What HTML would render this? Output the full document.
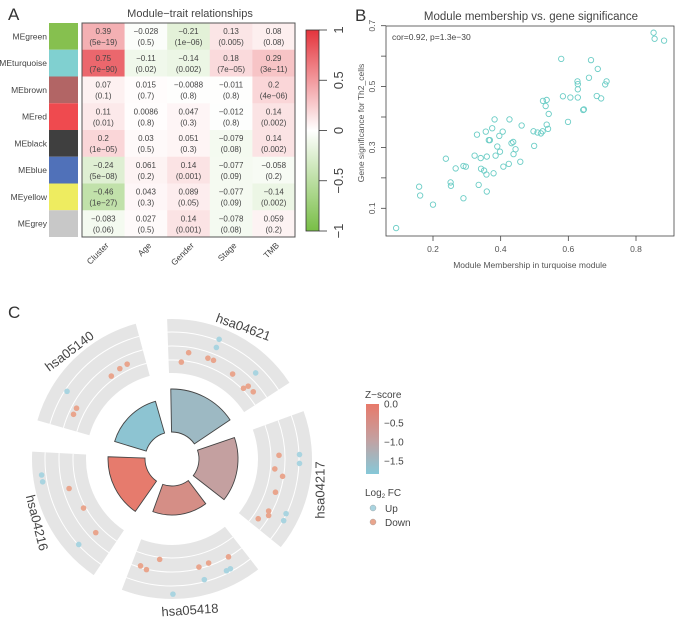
<!DOCTYPE html>
<html><head><meta charset="utf-8"><style>
body{margin:0;background:#fff}
svg{display:block;font-family:"Liberation Sans",sans-serif}
</style></head><body>
<svg id="fig" width="676" height="618" viewBox="0 0 676 618" xmlns="http://www.w3.org/2000/svg">
<g id="pa"></g>
<g id="pb"></g>
<g id="pc"></g>
</svg>
<script>
// ---------- Panel A data ----------
const modules = ["MEgreen","MEturquoise","MEbrown","MEred","MEblack","MEblue","MEyellow","MEgrey"];
const moduleColors = ["#86c04f","#80d0d0","#b26565","#ef4a4f","#3f3f3f","#5071b9","#eeec60","#c8c8c8"];
const traits = ["Cluster","Age","Gender","Stage","TMB"];
const corVals = [
 [0.39,-0.028,-0.21,0.13,0.08],
 [0.75,-0.11,-0.14,0.18,0.29],
 [0.07,0.015,-0.0088,-0.011,0.2],
 [0.11,0.0086,0.047,-0.012,0.14],
 [0.2,0.03,0.051,-0.079,0.14],
 [-0.24,0.061,0.14,-0.077,-0.058],
 [-0.46,0.043,0.089,-0.077,-0.14],
 [-0.083,0.027,0.14,-0.078,0.059]];
const pVals = [
 ["5e-19","0.5","1e-06","0.005","0.08"],
 ["7e-90","0.02","0.002","7e-05","3e-11"],
 ["0.1","0.7","0.8","0.8","4e-06"],
 ["0.01","0.8","0.3","0.8","0.002"],
 ["1e-05","0.5","0.3","0.08","0.002"],
 ["5e-08","0.2","0.001","0.09","0.2"],
 ["1e-27","0.3","0.05","0.09","0.002"],
 ["0.06","0.5","0.001","0.08","0.2"]];
const cbTicks = [1,0.5,0,-0.5,-1];
// ---------- Panel B data ----------
const mmVals = [0.852,0.855,0.883,0.579,0.667,0.687,0.661,0.628,0.627,0.713,0.709,0.628,0.584,0.628,0.684,0.697,0.606,0.525,0.536,0.533,0.542,0.646,0.644,0.382,0.426,0.462,0.599,0.375,0.406,0.330,0.356,0.396,0.365,0.368,0.497,0.509,0.519,0.524,0.536,0.540,0.499,0.390,0.432,0.437,0.444,0.438,0.398,0.385,0.323,0.341,0.359,0.238,0.458,0.424,0.408,0.267,0.290,0.297,0.342,0.351,0.379,0.358,0.252,0.253,0.159,0.162,0.335,0.359,0.290,0.200,0.091];
const gsVals = [0.677,0.657,0.651,0.591,0.587,0.558,0.529,0.508,0.517,0.517,0.507,0.491,0.468,0.464,0.469,0.461,0.464,0.453,0.456,0.436,0.410,0.425,0.423,0.392,0.392,0.372,0.384,0.363,0.352,0.342,0.352,0.338,0.324,0.324,0.353,0.349,0.346,0.353,0.375,0.361,0.305,0.303,0.314,0.318,0.294,0.278,0.286,0.273,0.273,0.265,0.270,0.263,0.253,0.246,0.237,0.231,0.239,0.237,0.230,0.224,0.215,0.211,0.185,0.174,0.171,0.142,0.177,0.155,0.133,0.112,0.035];
const xTicksB = [0.2,0.4,0.6,0.8];
const yTicksB = [0.1,0.2,0.3,0.4,0.5,0.6,0.7];
const yTickLabelsB = ["0.1","","0.3","","0.5","","0.7"];
// ---------- Panel C data ----------
const pathways = ["hsa04621","hsa04217","hsa05418","hsa04216","hsa05140"];
const zScores = [-1.55,-0.95,-0.5,-0.05,-1.8];
const barHeights = [70,66,56,64,60];
const dotSector = [0,0,0,0,0,0,0,0,0,0,0, 1,1,1,1,1,1,1,1,1,1,1, 2,2,2,2,2,2,2,2,2,2, 3,3,3,3,3,3, 4,4,4,4,4,4];
const dotAngle = [21.5,21.7,8.9,5.5,19.6,22.8,35.5,44.2,46.3,45.3,50.4, 88,92,88,95.5,98.9,107.8,115.6,118.9,118.3,120.3,124.7, 150,160.6,166,152,154,165,179.6,187,196.4,193, 263,260,254,241,226,227.5, 334.7,330,323.8,302.8,298,294.4];
const dotLevel = [0.79,0.63,0.40,0.21,0.39,0.39,0.34,0.63,0.36,0.27,0.36, 0.77,0.77,0.39,0.32,0.48,0.42,0.75,0.77,0.44,0.48,0.35, 0.5,0.45,0.47,0.71,0.71,0.72,0.91,0.28,0.47,0.51, 0.84,0.84,0.39,0.28,0.37,0.75, 0.35,0.34,0.31,0.72,0.41,0.41];
const dotUp = [1,1,0,0,0,0,0,1,0,0,0, 1,1,0,0,0,0,1,1,0,0,0, 0,0,0,1,1,1,1,0,0,0, 1,1,0,0,0,1, 0,0,0,1,0,0];
const zTicks = [0,-0.5,-1,-1.5];

const NS="http://www.w3.org/2000/svg";
function mk(parent,tag,attrs,text){const e=document.createElementNS(NS,tag);for(const k in attrs)e.setAttribute(k,attrs[k]);if(text!==undefined)e.textContent=text;parent.appendChild(e);return e;}
function fmt(v){return String(v).replace("-","\u2212");}
function mix(c1,c2,t){return "rgb("+c1.map((a,i)=>Math.round(a+(c2[i]-a)*t)).join(",")+")";}
function heatColor(v){const w=[255,255,255];return v>=0?mix(w,[228,52,60],Math.min(1,v)):mix(w,[120,190,70],Math.min(1,-v));}

// ---------- Panel A ----------
const pa=document.getElementById("pa");
let t=mk(pa,"text",{x:8,y:20,"font-size":17,fill:"#333"},"A");


t=mk(pa,"text",{x:190,y:17,"font-size":11,fill:"#444","text-anchor":"middle"},"Module\u2212trait relationships");


const hx0=82,hy0=23,cw=(295-82)/5,rh=(237-23)/8;
modules.forEach((m,i)=>{
  const y=hy0+i*rh;
  let r=mk(pa,"rect",{x:49,y:y,width:29,height:rh,fill:moduleColors[i]});
  
  
  let l=mk(pa,"text",{x:47,y:y+rh/2+3,"font-size":8.5,fill:"#444","text-anchor":"end"},m);
  
  
  traits.forEach((tr,j)=>{
    const x=hx0+j*cw;
    let c=mk(pa,"rect",{x:x,y:y,width:cw+0.3,height:rh+0.3,fill:heatColor(corVals[i][j])});
    
    
    let a=mk(pa,"text",{x:x+cw/2,y:y+11,"font-size":8,fill:"#444","text-anchor":"middle"},fmt(corVals[i][j]));
    
    
    let b=mk(pa,"text",{x:x+cw/2,y:y+22,"font-size":8,fill:"#444","text-anchor":"middle"},"("+fmt(pVals[i][j])+")");
    
    
  });
});
let fr=mk(pa,"rect",{x:hx0,y:hy0,width:213,height:214,fill:"none",stroke:"#555","stroke-width":1});


traits.forEach((tr,j)=>{
  const x=hx0+j*cw+cw/2+6;
  let l=mk(pa,"text",{x:x,y:246,"font-size":8.5,fill:"#444","text-anchor":"end",transform:`rotate(-45 ${x} 246)`},tr);
  
  
});
// colorbar
const cbx=306,cby0=30,cby1=231;
const defs=mk(document.getElementById("fig"),"defs",{});
const g1=mk(defs,"linearGradient",{id:"cbg",x1:0,y1:1,x2:0,y2:0});
mk(g1,"stop",{offset:"0","stop-color":"#78be46"});
mk(g1,"stop",{offset:"0.5","stop-color":"#ffffff"});
mk(g1,"stop",{offset:"1","stop-color":"#e4343c"});
let cb=mk(pa,"rect",{x:cbx,y:cby0,width:13,height:cby1-cby0,fill:"url(#cbg)",stroke:"#333","stroke-width":0.8});


const cbY=v=>cby0+(1-v)/2*(cby1-cby0);
cbTicks.forEach(v=>{
  const y=cbY(v);
  mk(pa,"line",{x1:319,x2:327,y1:y,y2:y,stroke:"#333","stroke-width":0.8});
  let l=mk(pa,"text",{x:343,y:y,"font-size":13,fill:"#444","text-anchor":"middle",transform:`rotate(-90 343 ${y})`},fmt(v));
  
  
});

// ---------- Panel B ----------
const pb=document.getElementById("pb");
const bx0=386,bx1=675,by0=26,by1=236;
const xS=v=>433+(v-0.2)/0.6*(636-433);
const yS=v=>208.3-(v-0.1)/0.6*(208.3-25.7);
t=mk(pb,"text",{x:355,y:21,"font-size":17,fill:"#333"},"B");


t=mk(pb,"text",{x:531,y:20,"font-size":11.5,fill:"#444","text-anchor":"middle"},"Module membership vs. gene significance");


let bf=mk(pb,"rect",{x:bx0,y:by0,width:bx1-bx0-1,height:by1-by0,fill:"none",stroke:"#444","stroke-width":0.8});


xTicksB.forEach(v=>{
  const x=xS(v);
  mk(pb,"line",{x1:x,x2:x,y1:by1,y2:by1+5,stroke:"#444","stroke-width":0.8});
  let l=mk(pb,"text",{x:x,y:252,"font-size":8.5,fill:"#555","text-anchor":"middle"},v.toFixed(1));
  
  
});
yTicksB.forEach((v,i)=>{
  const y=yS(v);
  mk(pb,"line",{x1:bx0-5,x2:bx0,y1:y,y2:y,stroke:"#444","stroke-width":0.8});
  if(yTickLabelsB[i]){
    let l=mk(pb,"text",{x:375,y:y,"font-size":8.5,fill:"#555","text-anchor":"middle",transform:`rotate(-90 375 ${y})`},yTickLabelsB[i]);
    
    
  }
});
t=mk(pb,"text",{x:530,y:268,"font-size":8.5,fill:"#555","text-anchor":"middle"},"Module Membership in turquoise module");


t=mk(pb,"text",{x:364,y:123,"font-size":8.5,fill:"#555","text-anchor":"middle",transform:"rotate(-90 364 123)"},"Gene significance for Th2_cells");


t=mk(pb,"text",{x:392,y:40,"font-size":8.5,fill:"#444"},"cor=0.92, p=1.3e\u221230");


mmVals.forEach((v,i)=>{
  let c=mk(pb,"circle",{cx:xS(v),cy:yS(gsVals[i]),r:2.7,fill:"none",stroke:"#6ccdc6","stroke-width":0.9});
  
  
});

// ---------- Panel C ----------
const pc=document.getElementById("pc");
t=mk(pc,"text",{x:8,y:318,"font-size":17,fill:"#333"},"C");


const cx=172,cy=459;
function pt(a,r){const rad=a*Math.PI/180;return [cx+r*Math.sin(rad),cy-r*Math.cos(rad)];}
function arcPath(a0,a1,r0,r1){
  const [x0,y0]=pt(a0,r1),[x1,y1]=pt(a1,r1),[x2,y2]=pt(a1,r0),[x3,y3]=pt(a0,r0);
  const lg=(a1-a0)>180?1:0;
  return `M${x0},${y0}A${r1},${r1} 0 ${lg} 1 ${x1},${y1}L${x2},${y2}A${r0},${r0} 0 ${lg} 0 ${x3},${y3}Z`;
}
function zColor(z){const f=Math.min(1,Math.max(0,-z/1.9));return f<0.5?mix([232,121,106],[196,160,160],f*2):mix([196,160,160],[134,200,216],(f-0.5)*2);}
const ringIn=86,ringOut=140,barIn=27;
pathways.forEach((p,i)=>{
  const a0=i*72-2,a1=i*72+57;
  let s=mk(pc,"path",{d:arcPath(a0,a1,ringIn,ringOut),fill:"#e5e5e5"});
  
  
  [99,113,127].forEach(r=>{
    const [x0,y0]=pt(a0,r),[x1,y1]=pt(a1,r);
    mk(pc,"path",{d:`M${x0},${y0}A${r},${r} 0 0 1 ${x1},${y1}`,fill:"none",stroke:"#fff","stroke-width":1});
  });
  let b=mk(pc,"path",{d:arcPath(a0+1,a1-1,barIn,barHeights[i]),fill:zColor(zScores[i]),stroke:"#444","stroke-width":0.9});
  
  
});
dotAngle.forEach((a,i)=>{
  const [x,y]=pt(a,ringIn+dotLevel[i]*(ringOut-ringIn));
  let d=mk(pc,"circle",{cx:x,cy:y,r:2.8,fill:dotUp[i]?"#a9d4e0":"#e9a58d"});
  
  
});
const plabels=[[243,328,20],[321,490,-90],[190,611,-4],[36,523,76],[70,352,-37]];
pathways.forEach((p,i)=>{
  const [x,y,r]=plabels[i];
  let l=mk(pc,"text",{x:x,y:y,"font-size":13,fill:"#444","text-anchor":"middle","dominant-baseline":"middle",transform:`rotate(${r} ${x} ${y})`},p);
  
  
});
// legend
t=mk(pc,"text",{x:365,y:398,"font-size":10,fill:"#444"},"Z\u2212score");


const g2=mk(defs,"linearGradient",{id:"zg",x1:0,y1:0,x2:0,y2:1});
mk(g2,"stop",{offset:"0","stop-color":"#e8796a"});
mk(g2,"stop",{offset:"0.5","stop-color":"#c4a0a0"});
mk(g2,"stop",{offset:"1","stop-color":"#86c8d8"});
let zb=mk(pc,"rect",{x:366,y:404,width:13,height:70,fill:"url(#zg)"});


const zY=z=>404+(-z)/1.85*70;
zTicks.forEach(z=>{
  let l=mk(pc,"text",{x:384,y:zY(z)+3.5,"font-size":10,fill:"#444"},z===0?"0.0":fmt(z.toFixed(1)));
  
  
});
t=mk(pc,"text",{x:365,y:496,"font-size":10,fill:"#444"});


mk(t,"tspan",{},"Log");mk(t,"tspan",{"font-size":6,dy:2},"2");mk(t,"tspan",{dy:-2}," FC");
[["Up","#a9d4e0",508],["Down","#e9a58d",522]].forEach(([n,c,y])=>{
  let d=mk(pc,"circle",{cx:373,cy:y,r:3,fill:c,stroke:"#999","stroke-width":0.4});
  
  
  let l=mk(pc,"text",{x:385,y:y+4,"font-size":10,fill:"#444"},n);
  
  
});
</script>
</body></html>
